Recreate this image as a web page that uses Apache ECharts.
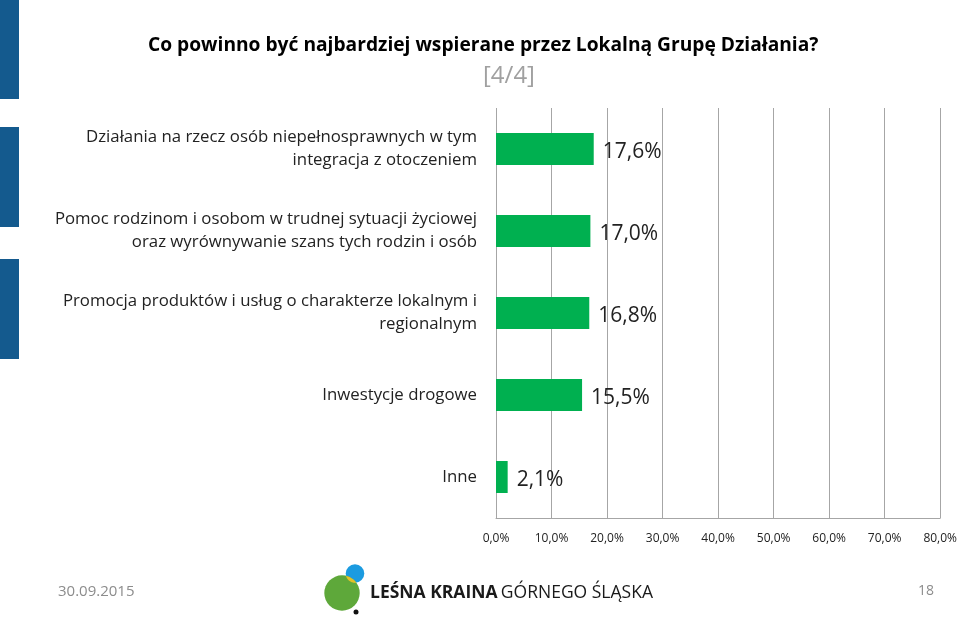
<!DOCTYPE html>
<html>
<head>
<meta charset="utf-8">
<script src="https://cdn.jsdelivr.net/npm/echarts@6/dist/echarts.min.js"></script>
<style>html,body{margin:0;padding:0;background:#fff}#c{width:960px;height:618px}</style>
</head>
<body>
<div id="c"></div>
<script>
const categories = [
  "Działania na rzecz osób niepełnosprawnych w tym\nintegracja z otoczeniem",
  "Pomoc rodzinom i osobom w trudnej sytuacji życiowej\noraz wyrównywanie szans tych rodzin i osób",
  "Promocja produktów i usług o charakterze lokalnym i\nregionalnym",
  "Inwestycje drogowe",
  "Inne"
];
const values = [17.6, 17.0, 16.8, 15.5, 2.1];
const axisTicks = [0, 10, 20, 30, 40, 50, 60, 70, 80];
const titleText = "Co powinno być najbardziej wspierane przez Lokalną Grupę Działania?";
const subtitleText = "[4/4]";
const footerDate = "30.09.2015";
const pageNo = "18";

const FONT = "'Open Sans', sans-serif";
const chart = echarts.init(document.getElementById('c'), null, {renderer: 'canvas'});
const fmt = v => v.toFixed(1).replace('.', ',') + '%';

// logo decoration: lens where the two circles overlap
const G = {cx: 342, cy: 593, r: 17.7}, B = {cx: 355, cy: 573.5, r: 9.3};
function lensPoints() {
  const pts = [];
  const inside = (c, x, y) => (x - c.cx) ** 2 + (y - c.cy) ** 2 <= c.r * c.r + 0.01;
  for (let i = 0; i <= 120; i++) {
    const a = -Math.PI + i * 2 * Math.PI / 120;
    const x = G.cx + G.r * Math.cos(a), y = G.cy + G.r * Math.sin(a);
    if (inside(B, x, y)) pts.push([x, y, 'g', a]);
  }
  const arcG = pts.map(p => [p[0], p[1]]);
  const arcB = [];
  for (let i = 0; i <= 120; i++) {
    const a = -Math.PI + i * 2 * Math.PI / 120;
    const x = B.cx + B.r * Math.cos(a), y = B.cy + B.r * Math.sin(a);
    if (inside(G, x, y)) arcB.push([x, y]);
  }
  // order all points around the lens centroid
  const all = arcG.concat(arcB);
  const mx = all.reduce((s, p) => s + p[0], 0) / all.length;
  const my = all.reduce((s, p) => s + p[1], 0) / all.length;
  all.sort((p, q) => Math.atan2(p[1] - my, p[0] - mx) - Math.atan2(q[1] - my, q[0] - mx));
  return all;
}

chart.setOption({
  animation: false,
  backgroundColor: '#ffffff',
  grid: {left: 496, right: 18, top: 108, bottom: 100, containLabel: false},
  xAxis: {
    type: 'value', min: axisTicks[0], max: axisTicks[axisTicks.length - 1], interval: 10,
    axisLine: {show: true, lineStyle: {color: '#a6a6a6', width: 1}},
    axisTick: {show: false},
    splitLine: {show: true, lineStyle: {color: '#a6a6a6', width: 1}},
    axisLabel: {formatter: v => fmt(v), color: '#222', fontFamily: FONT, fontSize: 12, margin: 15}
  },
  yAxis: {
    type: 'category', data: categories, inverse: true,
    axisLine: {show: false}, axisTick: {show: false},
    axisLabel: {color: '#222', fontFamily: FONT, fontSize: 16.8, lineHeight: 23, align: 'right', margin: 19}
  },
  series: [{
    type: 'bar', data: values, barWidth: 32,
    itemStyle: {color: '#00b050'},
    label: {show: true, position: 'right', distance: 9, offset: [0, 3], formatter: p => fmt(p.value),
      color: '#222', fontFamily: FONT, fontSize: 21}
  }],
  graphic: [
    {type: 'rect', shape: {x: 0, y: 0, width: 19, height: 99}, style: {fill: '#145a8e'}},
    {type: 'rect', shape: {x: 0, y: 127, width: 19, height: 100}, style: {fill: '#145a8e'}},
    {type: 'rect', shape: {x: 0, y: 259, width: 19, height: 100}, style: {fill: '#145a8e'}},
    {type: 'text', left: 148, top: 36, style: {text: titleText, fontFamily: FONT, fontWeight: 'bold', fontSize: 19.2, fill: '#000'}},
    {type: 'text', left: 483, top: 64, style: {text: subtitleText, fontFamily: FONT, fontSize: 24, fill: '#a0a0a0'}},
    {type: 'text', left: 58, top: 584, style: {text: footerDate, fontFamily: FONT, fontSize: 15, fill: '#8c8c8c'}},
    {type: 'text', left: 918, top: 584, style: {text: pageNo, fontFamily: FONT, fontSize: 14, fill: '#8c8c8c'}},
    {type: 'circle', shape: {cx: B.cx, cy: B.cy, r: B.r}, style: {fill: '#1b9be0'}},
    {type: 'circle', shape: {cx: G.cx, cy: G.cy, r: G.r}, style: {fill: '#5ea83a'}},
    {type: 'polygon', shape: {points: lensPoints()}, style: {fill: '#e2c22a'}},
    {type: 'circle', shape: {cx: 356, cy: 612, r: 2.5}, style: {fill: '#111'}},
    {type: 'text', left: 370, top: 584, style: {rich: {b: {fontFamily: FONT, fontWeight: 'bold', fontSize: 17.5, fill: '#1a1a1a'}, n: {fontFamily: FONT, fontSize: 17.5, fill: '#1a1a1a'}}, text: '{b|LEŚNA KRAINA} {n|GÓRNEGO ŚLĄSKA}'}}
  ]
});
</script>
</body>
</html>
